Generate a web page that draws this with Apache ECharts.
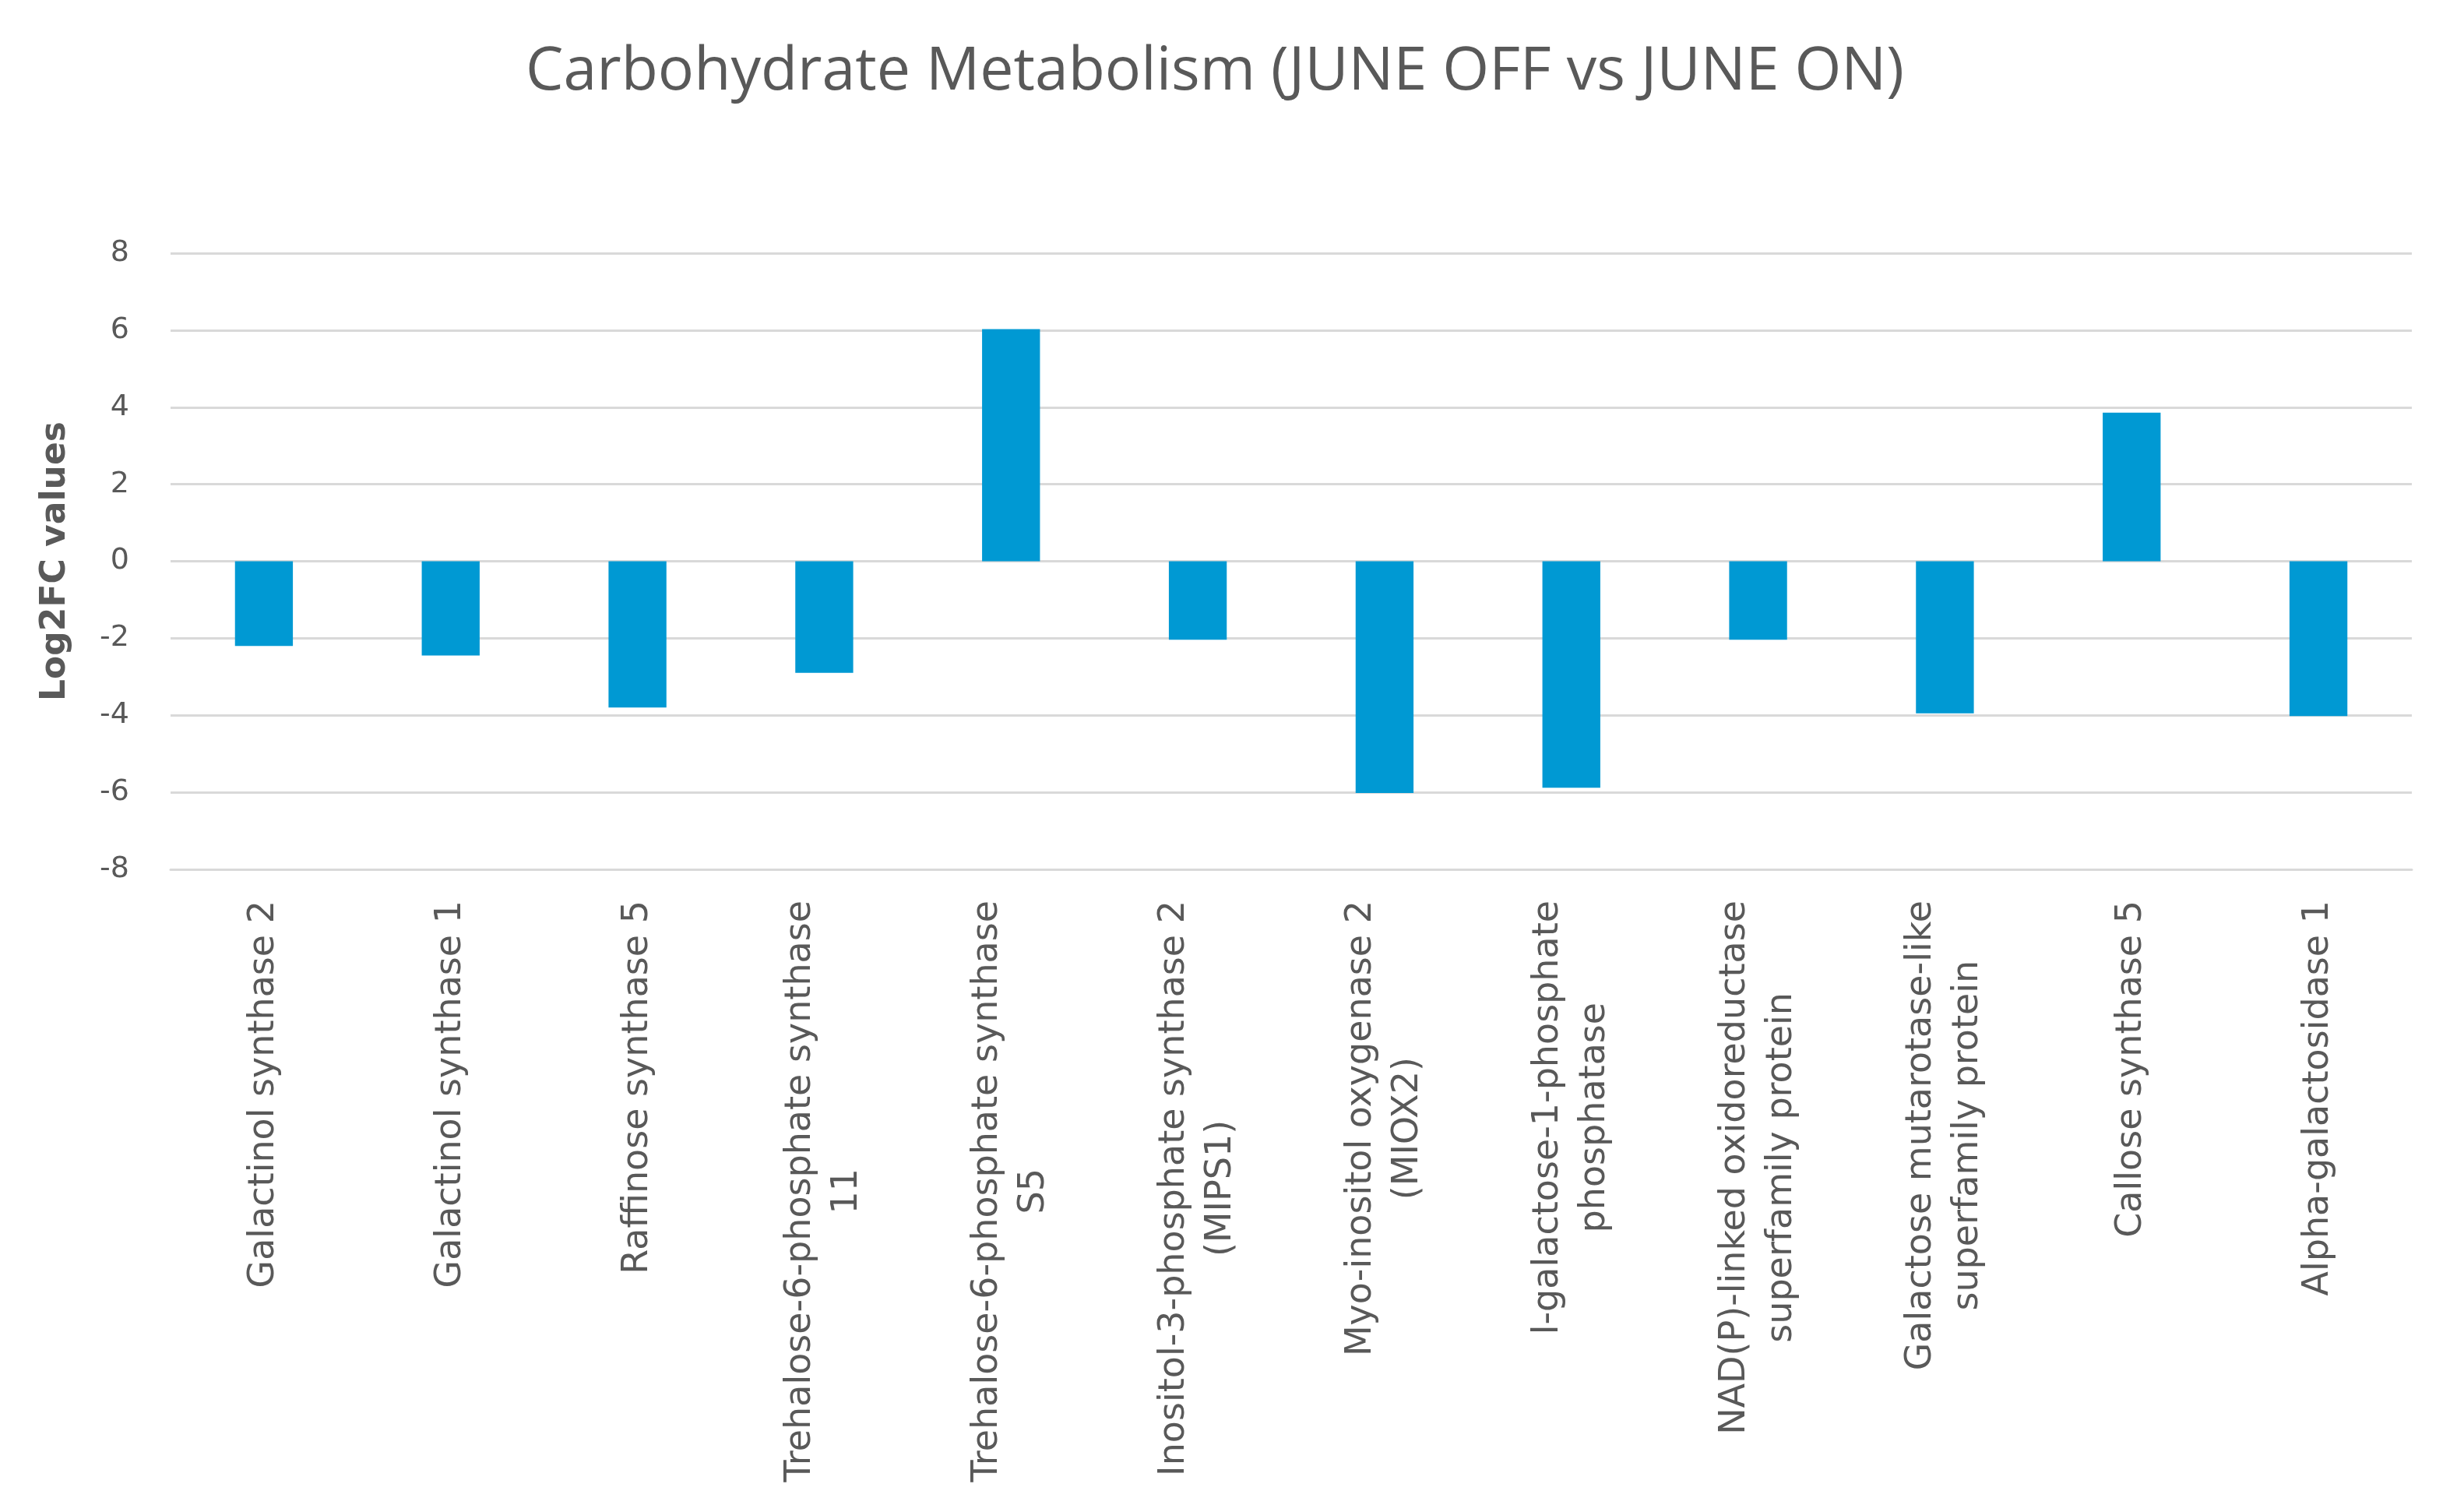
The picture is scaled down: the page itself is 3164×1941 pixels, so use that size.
<!DOCTYPE html>
<html>
<head>
<meta charset="utf-8">
<script src="https://cdn.jsdelivr.net/npm/echarts@6/dist/echarts.min.js"></script>
<style>
html,body{margin:0;padding:0;background:#fff;}
#chart{width:3164px;height:1941px;}
</style>
</head>
<body>
<div id="chart"></div>
<script>
const titleText = 'Carbohydrate Metabolism (JUNE OFF vs JUNE ON)';
const yAxisName = 'Log2FC values';
const categories = [
  'Galactinol synthase 2',
  'Galactinol synthase 1',
  'Raffinose synthase 5',
  'Trehalose-6-phosphate synthase\n11',
  'Trehalose-6-phosphate synthase\nS5',
  'Inositol-3-phosphate synthase 2\n(MIPS1)',
  'Myo-inositol oxygenase 2\n(MIOX2)',
  'l-galactose-1-phosphate\nphosphatase',
  'NAD(P)-linked oxidoreductase\nsuperfamily protein',
  'Galactose mutarotase-like\nsuperfamily protein',
  'Callose synthase 5',
  'Alpha-galactosidase 1'
];
const log2fcValues = [-2.2, -2.45, -3.8, -2.9, 6.03, -2.04, -6.02, -5.88, -2.04, -3.95, 3.86, -4.02];
const yTicks = [-8, -6, -4, -2, 0, 2, 4, 6, 8];

const chart = echarts.init(document.getElementById('chart'), null, {renderer: 'canvas'});
const textColor = '#595959';
const gridColor = '#d9d9d9';

chart.setOption({
  animation: false,
  backgroundColor: '#ffffff',
  title: {
    text: titleText,
    left: 670,
    top: 50,
    padding: 5,
    textStyle: {
      fontFamily: 'Open Sans',
      fontSize: 77,
      fontWeight: 'normal',
      color: textColor
    }
  },
  grid: {
    left: 219,
    right: 67,
    top: 325,
    bottom: 825,
    containLabel: false
  },
  xAxis: {
    type: 'category',
    data: categories,
    axisLine: {show: true, onZero: false, lineStyle: {color: gridColor, width: 3}},
    axisTick: {show: false},
    axisLabel: {
      rotate: 90,
      interval: 0,
      margin: 40,
      fontFamily: 'DejaVu Sans',
      fontSize: 46,
      color: textColor,
      lineHeight: 60,
      formatter: function (v) {
        return v.split('\n').map(function (s) { return '{c|' + s + '}'; }).join('\n');
      },
      rich: {
        c: {
          align: 'center',
          fontFamily: 'DejaVu Sans',
          fontSize: 46,
          color: textColor,
          lineHeight: 60
        }
      }
    }
  },
  yAxis: {
    type: 'value',
    min: yTicks[0],
    max: yTicks[yTicks.length - 1],
    interval: 2,
    name: yAxisName,
    nameLocation: 'middle',
    nameGap: 125,
    nameRotate: 90,
    nameTextStyle: {
      fontFamily: 'DejaVu Sans',
      fontSize: 44,
      fontWeight: 'bold',
      color: textColor
    },
    axisLine: {show: false},
    axisTick: {show: false},
    axisLabel: {
      margin: 53,
      fontFamily: 'DejaVu Sans',
      fontSize: 38,
      color: textColor
    },
    splitLine: {show: true, lineStyle: {color: gridColor, width: 3}}
  },
  series: [{
    type: 'bar',
    data: log2fcValues,
    barWidth: '31%',
    itemStyle: {color: '#0099d3'}
  }]
});
</script>
</body>
</html>
